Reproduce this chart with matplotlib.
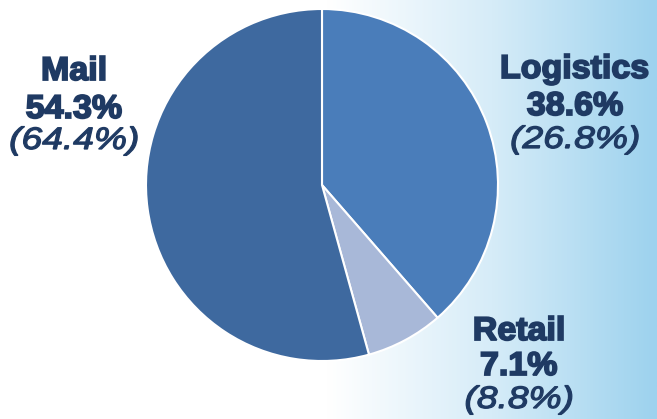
import numpy as np
import matplotlib.pyplot as plt
from matplotlib.colors import LinearSegmentedColormap
from matplotlib.font_manager import FontProperties
from matplotlib.textpath import TextPath
from matplotlib.patches import PathPatch
from matplotlib.transforms import Affine2D

# segment shares (current, previous year in brackets)
segments = ["Logistics", "Retail", "Mail"]
shares = [38.6, 7.1, 54.3]
prev_shares = [26.8, 8.8, 64.4]
colors = ["#4a7dba", "#a8b8d8", "#3e699f"]

W, H = 657, 419
fig = plt.figure(figsize=(6.57, 4.19), dpi=100)
ax = fig.add_axes([0, 0, 1, 1])

# white -> light blue background to the right
bg = LinearSegmentedColormap.from_list("bg", [(0, "#ffffff"), (0.5, "#ffffff"),
                                              (0.75, "#d6ecf8"), (1, "#9dd2ee")])
grad = np.linspace(0, 1, 256).reshape(1, -1)
ax.imshow(grad, cmap=bg, extent=[0, W, 0, H], aspect="auto", zorder=0)

ax.pie(shares, colors=colors, startangle=90, counterclock=False,
       center=(322, H - 185), radius=176, frame=True,
       wedgeprops=dict(edgecolor="white", linewidth=1.5, zorder=2))
ax.set_xlim(0, W)
ax.set_ylim(0, H)
ax.set_aspect("equal")
ax.axis("off")

navy = "#1f3a63"


def put_text(s, cx, base, size, italic=False, sx=1.0):
    # text drawn as a path so it can be widened a bit like the original
    prop = FontProperties(family="Liberation Sans",
                          weight="normal" if italic else "bold",
                          style="italic" if italic else "normal")
    tp = TextPath((0, 0), s, size=size, prop=prop)
    bb = tp.get_extents()
    tr = Affine2D().translate(-(bb.x0 + bb.x1) / 2, 0).scale(sx, 1).translate(cx, H - base)
    ax.add_patch(PathPatch(tr.transform_path(tp), fc=navy, ec=navy,
                           lw=0.9 if italic else 1.3, zorder=3))


# label centre x, baselines of the three lines (image pixels)
label_pos = {"Logistics": (575, [78, 115, 148]),
             "Retail": (519, [340, 375, 408]),
             "Mail": (74, [80, 118, 149])}
for name, s, p in zip(segments, shares, prev_shares):
    cx, bases = label_pos[name]
    put_text(name, cx, bases[0], 33, sx=1.03)
    put_text(f"{s}%", cx, bases[1], 33, sx=1.03)
    put_text(f"({p}%)", cx, bases[2], 31, italic=True, sx=1.2)

fig.savefig("out.png", dpi=100)
